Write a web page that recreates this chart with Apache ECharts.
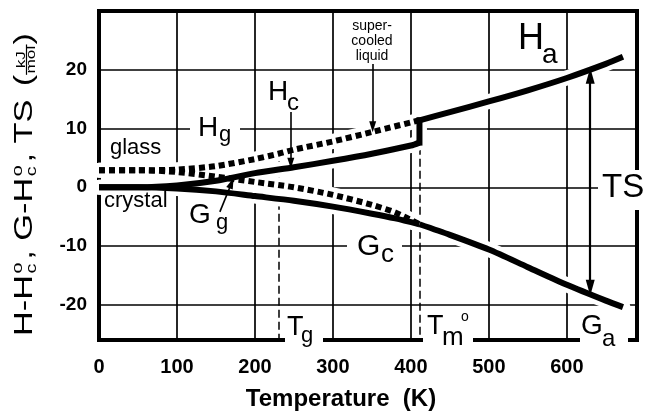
<!DOCTYPE html>
<html>
<head>
<meta charset="utf-8">
<script src="https://cdn.jsdelivr.net/npm/echarts@6/dist/echarts.min.js"></script>
<style>
  html, body { margin: 0; padding: 0; background: #fff; }
  #chart { width: 646px; height: 414px; }
</style>
</head>
<body>
<div id="chart"></div>
<script>
// ---- axis ticks ----
const xTicks = [0, 100, 200, 300, 400, 500, 600];
const yTicks = [-20, -10, 0, 10, 20];

// ---- thermodynamic curves, temperature (K) vs kJ/mol ----
// enthalpy of the crystal up to the melting point
const hCrystal = [[0, 0], [50, 0], [100, 0.3], [150, 1.1], [200, 2.4], [250, 3.4], [300, 4.5], [350, 5.7], [400, 7.1], [411, 7.6]];
// enthalpy of the liquid above the melting point
const hLiquid = [[411, 11.4], [450, 12.8], [500, 14.6], [550, 16.5], [600, 18.6], [650, 21.0], [672, 22.2]];
// enthalpy of glass / supercooled liquid
const hGlass = [[0, 2.9], [50, 2.9], [100, 3.0], [150, 3.6], [200, 4.8], [230, 5.7], [250, 6.4], [300, 7.8], [350, 9.4], [411, 11.4]];
// Gibbs energy of the crystal
const gCrystal = [[0, 0], [50, 0], [100, -0.2], [150, -0.7], [200, -1.5], [250, -2.3], [300, -3.3], [350, -4.5], [380, -5.3], [411, -6.3]];
// Gibbs energy of the liquid
const gLiquid = [[411, -6.3], [450, -8.1], [500, -10.6], [550, -13.6], [600, -16.6], [650, -19.3], [672, -20.4]];
// Gibbs energy of glass / supercooled liquid
const gGlass = [[0, 2.9], [50, 2.9], [100, 2.6], [150, 1.8], [200, 0.9], [250, 0.0], [300, -1.3], [350, -3.0], [380, -4.3], [411, -6.3]];

// transition temperatures
const Tg = 230, Tm = 411;
// vertical guide lines [T, top value]
const tgGuide = [Tg, 5.7];
const tmGuide = [Tm, 6.9];
// pointer arrows: [from, to] in data units
const arrowSupercooled = [[351, 21], [351, 10.3]];
const arrowHc = [[246, 12.8], [246, 4.1]];
const arrowGg = [[155, -4.2], [170, 0.7]];
const arrowTS = [[630, 19.0], [630, -17.1]];

const FONT = "'Liberation Sans', Arial, Helvetica, sans-serif";
const chart = echarts.init(document.getElementById('chart'));

function curve(data, dashed) {
  return {
    type: 'line', data: data, symbol: 'none', silent: true, z: 10, smooth: 0.25,
    lineStyle: { color: '#000', width: 6, type: dashed ? [6, 4] : 'solid', cap: 'butt', join: 'round' }
  };
}
function halo(data) {
  return {
    type: 'line', data: data, symbol: 'none', silent: true, z: 8, smooth: 0.25,
    lineStyle: { color: '#fff', width: 15, cap: 'round', join: 'round' }
  };
}
function guide(pt) {
  return [{ coord: [pt[0], pt[1]] }, { coord: [pt[0], -26] }];
}
function arrow(a) {
  return [{ coord: a[0] }, { coord: a[1] }];
}

const hJump = [hCrystal[hCrystal.length - 1], hLiquid[0]];
const curves = [hCrystal, hLiquid, hGlass, gCrystal, gLiquid, gGlass];

const series = [];
// white outlines first so the grid is cleared around every curve
curves.forEach(c => series.push(halo(c)));
series.push(halo(hJump));
// dashed transition guides, kept under the outlines
series.push({
  type: 'line', data: [], z: 5, silent: true,
  markLine: {
    silent: true, z: 5, symbol: ['none', 'none'], label: { show: false }, animation: false,
    lineStyle: { color: '#000', width: 1.5, type: [8, 4] },
    data: [guide(tgGuide), guide(tmGuide)]
  }
});
series.push(curve(hCrystal, false));
series.push(curve(hLiquid, false));
series.push({ type: 'line', data: hJump, symbol: 'none', silent: true, z: 10,
  lineStyle: { color: '#000', width: 6, cap: 'square' } });
series.push(curve(gCrystal, false));
series.push(curve(gLiquid, false));
series.push(curve(hGlass, true));
series.push(curve(gGlass, true));
// pointer arrows, drawn above everything
series.push({
  type: 'line', data: [], z: 12, silent: true,
  markLine: {
    silent: true, z: 12, label: { show: false }, animation: false,
    symbol: ['none', 'triangle'], symbolSize: [7, 11],
    lineStyle: { color: '#000', width: 1.6, type: 'solid' },
    itemStyle: { color: '#000' },
    data: [arrow(arrowSupercooled), arrow(arrowHc), arrow(arrowGg)]
  }
});
series.push({
  type: 'line', data: [], z: 12, silent: true,
  markLine: {
    silent: true, z: 12, label: { show: false }, animation: false,
    symbol: ['triangle', 'triangle'], symbolSize: [9, 16],
    lineStyle: { color: '#000', width: 2.2, type: 'solid' },
    itemStyle: { color: '#000' },
    data: [arrow(arrowTS)]
  }
});

// ---- text annotations (pixel layout) ----
const graphics = [];
function textEl(text, x, y, size, opts) {
  opts = opts || {};
  return {
    type: 'text', x: x, y: y, z: 30, silent: true,
    style: { text: text, font: (opts.weight || 'normal') + ' ' + size + 'px ' + FONT, fill: '#000',
      align: opts.align || 'left', verticalAlign: opts.va || 'middle', lineHeight: opts.lh }
  };
}
function txt(text, x, y, size, opts) { graphics.push(textEl(text, x, y, size, opts)); }
function blank(x, y, w, h) {
  graphics.push({ type: 'rect', z: 4, silent: true, shape: { x: x, y: y, width: w, height: h }, style: { fill: '#fff' } });
}
// gaps in the frame / grid behind labels
blank(190, 116, 50, 34);   // H_g
blank(347, 232, 55, 32);   // G_c
blank(598, 170, 48, 40);   // TS
blank(285, 315, 38, 35);   // T_g
blank(423, 310, 50, 40);   // T_m
blank(580, 313, 48, 37);   // G_a

txt('glass', 110, 148, 22);
txt('crystal', 104, 201, 22);
txt('H', 198, 128, 28); txt('g', 219, 135, 22);
txt('H', 268, 92, 28); txt('c', 287, 103, 24);
txt('H', 518, 39, 36); txt('a', 542, 55, 28);
txt('G', 189, 215, 28); txt('g', 216, 223, 22);
txt('G', 357, 247, 30); txt('c', 381, 255, 26);
txt('TS', 602, 188, 33);
txt('T', 287, 328, 27); txt('g', 301, 336, 22);
txt('T', 427, 327, 27); txt('m', 442, 338, 26); txt('o', 461, 317, 14);
txt('G', 581, 326, 28); txt('a', 602, 339, 24);
txt('super-\ncooled\nliquid', 372, 41, 14, { align: 'center', lh: 15 });
txt('Temperature  (K)', 341, 399, 24, { align: 'center', weight: 'bold' });

// rotated axis title: laid out along a local baseline, then turned to read upward
const measure = document.createElement('canvas').getContext('2d');
function width(text, size) { measure.font = size + 'px ' + FONT; return measure.measureText(text).width; }
const titleSize = 26, smallSize = 15, fracSize = 13;
const titleKids = [];
let u = 0;
function part(text) { titleKids.push(textEl(text, u, 0, titleSize)); u += width(text, titleSize); }
function supSub() {
  titleKids.push(textEl('o', u + 1, -7, smallSize));
  titleKids.push(textEl('c', u + 1, 7, smallSize));
  u += width('o', smallSize) + 3;
}
part('H-H'); supSub(); part(', G-H'); supSub(); part(', TS');
u += 10;
part('(');
const fracW = Math.max(width('kJ', fracSize), width('mol', fracSize)) + 2;
titleKids.push(textEl('kJ', u + fracW / 2, -4, fracSize, { align: 'center' }));
titleKids.push(textEl('mol', u + fracW / 2, 6, fracSize, { align: 'center' }));
titleKids.push({ type: 'line', z: 30, silent: true, shape: { x1: u, y1: 1.5, x2: u + fracW, y2: 1.5 }, style: { stroke: '#000', lineWidth: 1.2 } });
u += fracW;
part(')');
const titleSpan = 303;   // screen pixels from the first H to the closing bracket
graphics.push({ type: 'group', x: 25, y: 336, rotation: Math.PI / 2, scaleX: titleSpan / u, children: titleKids });

const option = {
  animation: false,
  backgroundColor: '#fff',
  grid: { left: 99, right: 9, top: 11, bottom: 74, show: true, borderColor: '#000', borderWidth: 4, backgroundColor: 'transparent' },
  xAxis: {
    type: 'value', min: 0, max: 690,
    axisLine: { show: false },
    axisTick: { show: false, customValues: xTicks },
    splitLine: { show: true, lineStyle: { color: '#000', width: 1.7 } },
    axisLabel: { customValues: xTicks, margin: 17, color: '#000', fontFamily: FONT, fontWeight: 'bold', fontSize: 20 }
  },
  yAxis: {
    type: 'value', min: -26, max: 30,
    axisLine: { show: false },
    axisTick: { show: false, customValues: yTicks },
    splitLine: { show: true, lineStyle: { color: '#000', width: 1.7 } },
    axisLabel: { customValues: yTicks, margin: 12, color: '#000', fontFamily: FONT, fontWeight: 'bold', fontSize: 19 }
  },
  series: series,
  graphic: graphics
};
chart.setOption(option);
</script>
</body>
</html>
